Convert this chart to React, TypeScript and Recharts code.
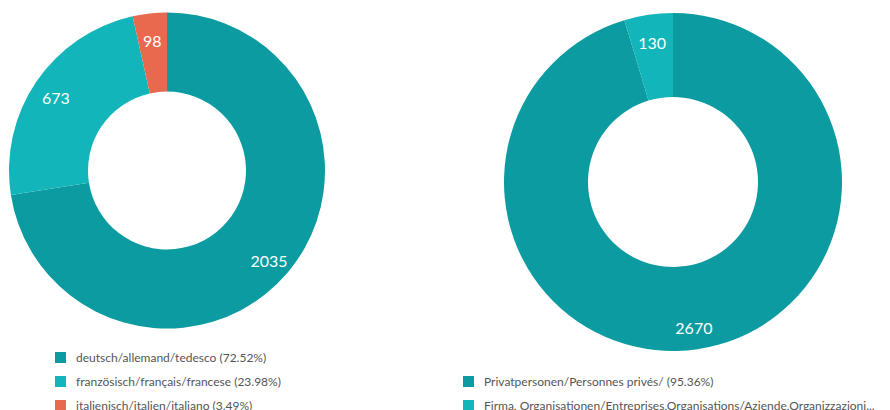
import { PieChart, Pie, Cell } from "recharts";

const languageNames = [
  "deutsch/allemand/tedesco",
  "französisch/français/francese",
  "italienisch/italien/italiano",
];
const languageCounts = [2035, 673, 98];
const languagePercents = ["72.52%", "23.98%", "3.49%"];
const languageColors = ["#0c9ba0", "#12b5b9", "#e8694d"];

const clientNames = [
  "Privatpersonen/Personnes privés/",
  "Firma, Organisationen/Entreprises,Organisations/Aziende,Organizzazioni...",
];
const clientCounts = [2670, 130];
const clientPercents = ["95.36%", ""];
const clientColors = ["#0c9ba0", "#12b5b9"];

const FONT = "Lato, 'Open Sans', sans-serif";

function renderLabel(props: any) {
  const { cx, cy, midAngle, innerRadius, outerRadius, value } = props;
  const r = innerRadius + (outerRadius - innerRadius) * 0.7;
  const rad = (Math.PI / 180) * midAngle;
  const x = cx + r * Math.cos(rad);
  const y = cy - r * Math.sin(rad) + 3;
  return (
    <text
      x={x}
      y={y}
      fill="#fff"
      fontSize={16}
      fontFamily={FONT}
      textAnchor="middle"
      dominantBaseline="central"
    >
      {value}
    </text>
  );
}

function LegendList({
  names,
  percents,
  colors,
  left,
  top,
}: {
  names: string[];
  percents: string[];
  colors: string[];
  left: number;
  top: number;
}) {
  return (
    <div style={{ position: "absolute", left, top, fontFamily: FONT, fontSize: 12, color: "#555" }}>
      {names.map((n, i) => (
        <div key={n} style={{ display: "flex", alignItems: "center", height: 24, whiteSpace: "nowrap" }}>
          <span style={{ width: 11, height: 11, background: colors[i], marginRight: 10, display: "inline-block" }} />
          <span>{percents[i] ? `${n} (${percents[i]})` : n}</span>
        </div>
      ))}
    </div>
  );
}

export default function App() {
  const langData = languageNames.map((name, i) => ({ name, value: languageCounts[i] }));
  const clientData = clientNames.map((name, i) => ({ name, value: clientCounts[i] }));

  return (
    <div style={{ position: "absolute", left: 0, top: 0, width: 890, height: 410, overflow: "hidden", background: "#fff" }}>
      <div style={{ position: "absolute", left: 0, top: 0 }}>
        <PieChart width={445} height={345} margin={{ top: 0, right: 0, bottom: 0, left: 0 }}>
          <Pie
            data={langData}
            dataKey="value"
            cx={167}
            cy={170.5}
            innerRadius={79}
            outerRadius={158}
            startAngle={90}
            endAngle={-270}
            stroke="none"
            label={renderLabel}
            labelLine={false}
            isAnimationActive={false}
          >
            {langData.map((d, i) => (
              <Cell key={d.name} fill={languageColors[i]} />
            ))}
          </Pie>
        </PieChart>
      </div>
      <div style={{ position: "absolute", left: 445, top: 0 }}>
        <PieChart width={445} height={360} margin={{ top: 0, right: 0, bottom: 0, left: 0 }}>
          <Pie
            data={clientData}
            dataKey="value"
            cx={228}
            cy={182}
            innerRadius={85}
            outerRadius={169}
            startAngle={90}
            endAngle={-270}
            stroke="none"
            label={renderLabel}
            labelLine={false}
            isAnimationActive={false}
          >
            {clientData.map((d, i) => (
              <Cell key={d.name} fill={clientColors[i]} />
            ))}
          </Pie>
        </PieChart>
      </div>
      <LegendList names={languageNames} percents={languagePercents} colors={languageColors} left={55} top={345} />
      <LegendList names={clientNames} percents={clientPercents} colors={clientColors} left={463} top={369} />
    </div>
  );
}
